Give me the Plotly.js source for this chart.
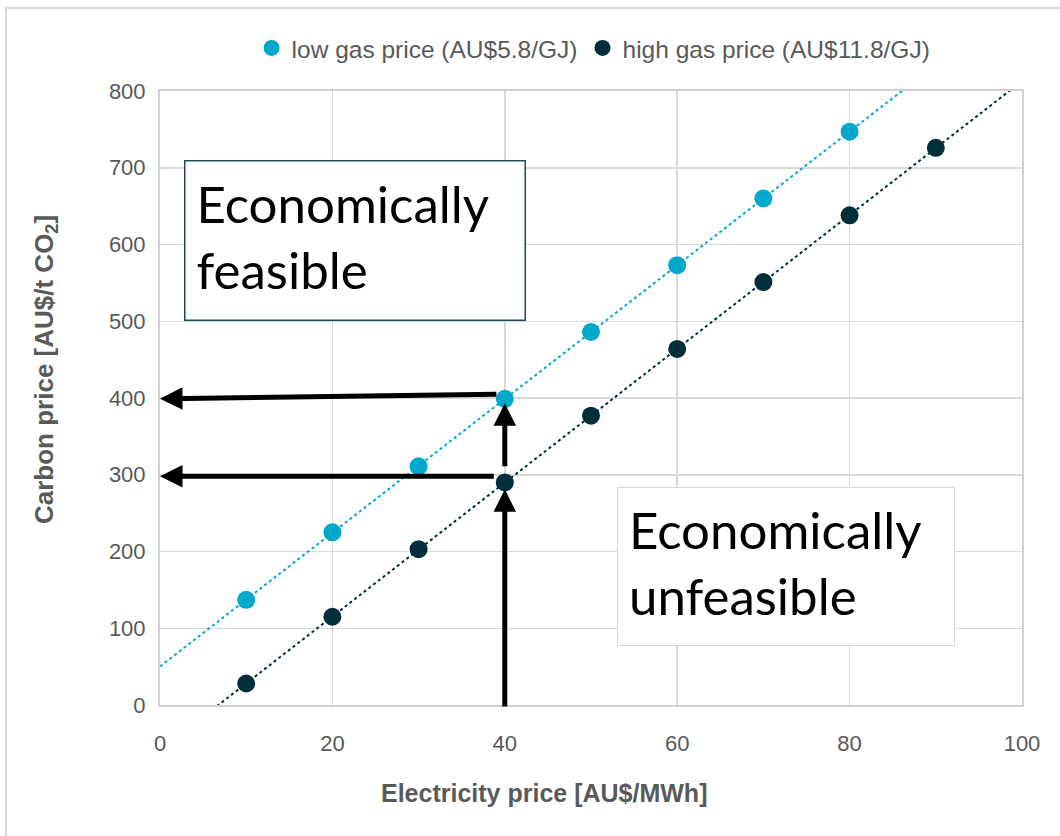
<!DOCTYPE html>
<html>
<head>
<meta charset="utf-8">
<script src="https://cdn.plot.ly/plotly-3.0.1.min.js"></script>
<style>
html,body{margin:0;padding:0;background:#fff;}
#chart{width:1060px;height:836px;}
</style>
</head>
<body>
<div id="chart"></div>
<script>
// Data
const lowX = [10, 20, 30, 40, 50, 60, 70, 80];
const lowY = [137, 225, 311, 399, 486, 573, 660, 747];
const highX = [10, 20, 30, 40, 50, 60, 70, 80, 90];
const highY = [28, 115, 203, 290, 377, 464, 551, 638, 726];
const lowName = "low gas price (AU$5.8/GJ)";
const highName = "high gas price (AU$11.8/GJ)";
const xTicks = [0, 20, 40, 60, 80, 100];
const yTicks = [0, 100, 200, 300, 400, 500, 600, 700, 800];
const xTitle = "Electricity price [AU$/MWh]";
const yTitle = "Carbon price [AU$/t CO<sub>2</sub>]";
const feasibleText = "Economically<br>feasible";
const unfeasibleText = "Economically<br>unfeasible";
// reading lines (arrows): [tailX, tailY, headX, headY]
const arrows = [
  [39.2, 405, 0, 399],
  [38.9, 298, 0, 298],
  [40, 309, 40, 393],
  [40, -4, 40, 281]
];

const lowColor = "#00A8CC";
const highColor = "#002E3A";

function fit(xs, ys) {
  const n = xs.length;
  const mx = xs.reduce((a, b) => a + b, 0) / n;
  const my = ys.reduce((a, b) => a + b, 0) / n;
  let sxy = 0, sxx = 0;
  for (let i = 0; i < n; i++) { sxy += (xs[i] - mx) * (ys[i] - my); sxx += (xs[i] - mx) ** 2; }
  const m = sxy / sxx;
  return [m, my - m * mx];
}
function trend(xs, ys) {
  const [m, b] = fit(xs, ys);
  const tx = [0, 100];
  return { x: tx, y: tx.map(v => m * v + b) };
}
const tl = trend(lowX, lowY);
const th = trend(highX, highY);

const traces = [
  { x: tl.x, y: tl.y, mode: "lines", line: { color: lowColor, width: 2, dash: "dot" }, showlegend: false, hoverinfo: "skip" },
  { x: th.x, y: th.y, mode: "lines", line: { color: highColor, width: 2, dash: "dot" }, showlegend: false, hoverinfo: "skip" },
  { x: lowX, y: lowY, mode: "markers", name: lowName, marker: { color: lowColor, size: 18 } },
  { x: highX, y: highY, mode: "markers", name: highName, marker: { color: highColor, size: 18 } }
];

const annotations = arrows.map(a => ({
  x: a[2], y: a[3], ax: a[0], ay: a[1], xref: "x", yref: "y", axref: "x", ayref: "y",
  text: "", showarrow: true, arrowhead: 2, arrowsize: 0.9, arrowwidth: 5, arrowcolor: "#000000"
}));
annotations.push({
  x: 2.78, y: 710, xref: "x", yref: "y", xanchor: "left", yanchor: "top",
  text: feasibleText, showarrow: false, align: "left", valign: "top",
  width: 317, height: 136, borderpad: 11, borderwidth: 1.5, bordercolor: "#1E4B55", bgcolor: "#ffffff",
  font: { family: "Lato, sans-serif", size: 51, color: "#000000" }
});
annotations.push({
  x: 53.0, y: 284, xref: "x", yref: "y", xanchor: "left", yanchor: "top",
  text: unfeasibleText, showarrow: false, align: "left", valign: "top",
  width: 314, height: 135, borderpad: 11, borderwidth: 1, bordercolor: "#D3DADA", bgcolor: "#ffffff",
  font: { family: "Lato, sans-serif", size: 51, color: "#000000" }
});
// axis titles (placed as in the reference, off-centre)
annotations.push({
  x: 0.4455, y: -0.143, xref: "paper", yref: "paper", xanchor: "center", yanchor: "middle",
  text: "<b>" + xTitle + "</b>", showarrow: false,
  font: { family: "Liberation Sans, Arial, sans-serif", size: 25, color: "#595959" }
});
annotations.push({
  x: -0.1334, y: 0.5456, xref: "paper", yref: "paper", xanchor: "center", yanchor: "middle",
  text: "<b>" + yTitle + "</b>", showarrow: false, textangle: -90,
  font: { family: "Liberation Sans, Arial, sans-serif", size: 26, color: "#595959" }
});

const layout = {
  width: 1060, height: 836,
  margin: { l: 160, r: 38, t: 91, b: 131, autoexpand: false },
  paper_bgcolor: "#ffffff", plot_bgcolor: "#ffffff",
  font: { family: "Liberation Sans, Arial, sans-serif", color: "#595959" },
  showlegend: true,
  legend: { orientation: "h", x: 0.503, xanchor: "center", y: 1.07, yanchor: "middle",
    font: { size: 24.5, color: "#595959" }, itemwidth: 30, tracegroupgap: 0 },
  xaxis: {
    range: [0, 100], tickvals: xTicks, ticktext: xTicks.map(String),
    showgrid: true, gridcolor: "#D9D9D9", gridwidth: 1.5,
    showline: true, linecolor: "#D0D0D0", linewidth: 2, mirror: true,
    zeroline: false, ticks: "", tickfont: { size: 22, color: "#595959" }, ticklabelstandoff: 18,
    automargin: false
  },
  yaxis: {
    range: [0, 800], tickvals: yTicks, ticktext: yTicks.map(String),
    showgrid: true, gridcolor: "#D9D9D9", gridwidth: 1.5,
    showline: true, linecolor: "#D0D0D0", linewidth: 2, mirror: true,
    zeroline: false, ticks: "", tickfont: { size: 22, color: "#595959" }, ticklabelstandoff: 8,
    automargin: false
  },
  annotations: annotations,
  shapes: [
    { type: "rect", xref: "paper", yref: "paper", x0: -0.1787, x1: 1.2, y0: -0.3, y1: 1.135,
      line: { color: "#D9D9D9", width: 2 }, fillcolor: "rgba(0,0,0,0)", layer: "below" }
  ]
};

Plotly.newPlot("chart", traces, layout, { displayModeBar: false, staticPlot: true });
</script>
</body>
</html>
